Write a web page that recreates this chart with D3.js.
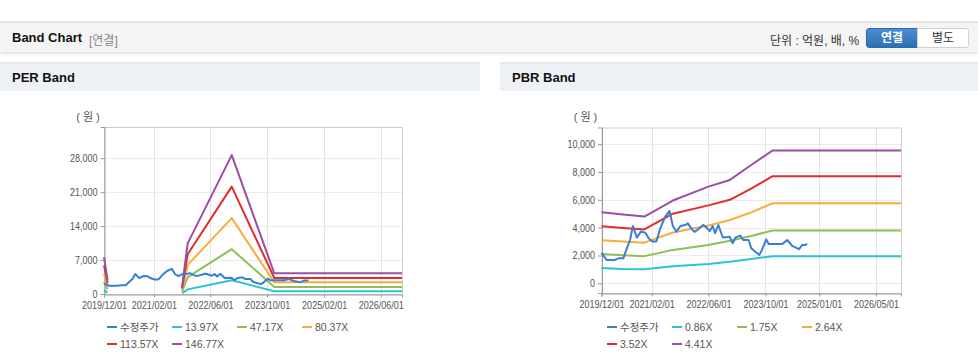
<!DOCTYPE html>
<html>
<head>
<meta charset="utf-8">
<script src="https://cdn.jsdelivr.net/npm/d3@7/dist/d3.min.js"></script>
<style>
body{margin:0;width:978px;height:361px;overflow:hidden;background:#fff;position:relative;
  font-family:"Liberation Sans","Noto Sans CJK KR",sans-serif;}
.topbar{position:absolute;left:0;top:21px;width:978px;height:29px;background:#f4f4f4;
  border-top:2px solid #e3e3e3;box-shadow:0 2px 3px rgba(0,0,0,0.13);}
.topbar .title{position:absolute;left:12px;top:7px;font-size:13px;font-weight:bold;color:#111;}
.topbar .sub{position:absolute;left:89px;top:8px;font-size:12px;color:#888;}
.topbar .unit{position:absolute;left:770px;top:8px;font-size:12px;color:#333;}
.btn{position:absolute;top:5px;height:18px;width:50px;font-size:12px;text-align:center;line-height:18px;
  border:1px solid #d0d0d0;box-sizing:content-box;}
.btn.on{left:866px;background:linear-gradient(#4c8cd0,#2f6fb5);color:#fff;font-weight:bold;border-color:#2d69ad;border-radius:3px 0 0 3px;}
.btn.off{left:917px;background:#fff;color:#333;border-radius:0 3px 3px 0;}
.phead{position:absolute;top:62px;height:27px;background:#eef2f7;border-top:2px solid #e3e8ee;}
.phead span{position:absolute;left:12px;top:6px;font-size:13px;font-weight:bold;color:#111;}
svg{position:absolute;top:91px;}
</style>
</head>
<body>
<div class="topbar">
  <div class="title">Band Chart</div>
  <div class="sub">[연결]</div>
  <div class="unit">단위 : 억원, 배, %</div>
  <div class="btn on">연결</div>
  <div class="btn off">별도</div>
</div>
<div class="phead" style="left:0;width:480px"><span>PER Band</span></div>
<div class="phead" style="left:500px;width:478px"><span>PBR Band</span></div>
<div id="per"></div>
<div id="pbr"></div>
<script>
// 수정주가 (shared by both charts)
const priceDates = ["2019/12/01","2020/01/13","2020/03/25","2020/04/22","2020/06/04","2020/07/10","2020/08/01",
  "2020/08/25","2020/09/28","2020/11/01","2020/12/10","2021/01/07","2021/02/07","2021/03/13","2021/04/16",
  "2021/05/28","2021/07/04","2021/08/01","2021/09/01","2021/10/04","2021/11/16","2021/12/07","2022/01/01",
  "2022/02/01","2022/03/01","2022/04/16","2022/05/01","2022/06/13","2022/07/07","2022/07/28","2022/08/25",
  "2022/10/01","2022/11/01","2022/11/28","2022/12/25","2023/01/19","2023/02/28","2023/03/25","2023/05/10",
  "2023/06/01","2023/07/04","2023/08/10","2023/09/01","2023/10/07","2023/10/28","2023/12/10","2024/02/22",
  "2024/04/04","2024/05/16","2024/07/13","2024/08/10","2024/09/05","2024/09/20"];
const priceValues = [2200,1680,1680,1790,1790,2630,3110,
  4120,3280,3710,3640,3240,3000,3000,3950,
  4790,5200,4120,3710,4120,4190,4310,4000,
  3690,3850,4190,4120,3760,4120,3600,4190,
  3310,3310,3350,2880,3300,3430,3110,3110,
  2520,2280,2040,2400,3160,2830,2830,2830,
  3110,2690,2450,2760,2760,2830];

// PER band
const perDates = ["2019/12/01","2020/01/01","2020/02/01","2021/10/01","2021/11/18","2022/12/01","2023/12/01","2026/12/01"];
const per1 = [800,300,null,150,950,2850,550,550];
const per2 = [2500,950,null,500,3500,9250,1450,1450];
const per3 = [4200,1600,null,850,6000,15650,2400,2400];
const per4 = [5900,2250,null,1150,8200,22150,3300,3300];
const per5 = [7600,2900,null,1500,10450,28650,4270,4270];
const perLabels = ["13.97X","47.17X","80.37X","113.57X","146.77X"];
const perTicks = ["2019/12/01","2021/02/01","2022/06/01","2023/10/01","2025/02/01","2026/06/01"];
const perYTicks = [0,7000,14000,21000,28000];

// PBR band
const pbrDates = ["2019/12/01","2020/06/01","2020/12/01","2021/08/01","2022/06/01","2022/12/01","2023/06/01","2023/12/01","2026/12/01"];
const pbr1 = [1100,1030,1000,1220,1380,1550,1750,1950,1950];
const pbr2 = [2100,2020,1950,2400,2750,3050,3400,3800,3800];
const pbr3 = [3100,3000,2920,3650,4150,4550,5100,5750,5750];
const pbr4 = [4100,3980,3870,5000,5600,6000,6800,7700,7700];
const pbr5 = [5100,4950,4800,5950,6950,7430,8500,9550,9550];
const pbrLabels = ["0.86X","1.75X","2.64X","3.52X","4.41X"];
const pbrTicks = ["2019/12/01","2021/02/01","2022/06/01","2023/10/01","2025/01/01","2026/05/01"];
const pbrYTicks = [0,2000,4000,6000,8000,10000];

const colors = ["#3a7dd6","#2bc3d5","#8ebf55","#f8ac3a","#df2f2b","#9a4fa7"];
const parse = d3.timeParse("%Y/%m/%d");

function drawBand(sel, left, cfg){
  const W = 478, H = 270;
  const svg = d3.select(sel).append("svg")
    .attr("width", W).attr("height", H)
    .style("left", left + "px");
  const g = svg.append("g");

  const x = d3.scaleTime()
    .domain([parse("2019/12/01"), parse("2026/12/01")])
    .range([cfg.x0, cfg.x1]);
  const y = d3.scaleLinear().domain(cfg.yDomain).range([cfg.y0, cfg.y1]);

  // grid
  g.append("g").selectAll("line").data(cfg.yTicks).join("line")
    .attr("x1", cfg.x0).attr("x2", cfg.x1)
    .attr("y1", d => Math.round(y(d)) + 0.5).attr("y2", d => Math.round(y(d)) + 0.5)
    .attr("stroke", "#ececec");
  g.append("g").selectAll("line").data(cfg.xTicks).join("line")
    .attr("x1", d => Math.round(x(parse(d))) + 0.5).attr("x2", d => Math.round(x(parse(d))) + 0.5)
    .attr("y1", cfg.y1).attr("y2", cfg.y0)
    .attr("stroke", "#e4e4e4");

  // frame
  g.append("rect").attr("x", cfg.x0 + 0.5).attr("y", cfg.y1 + 0.5)
    .attr("width", cfg.x1 - cfg.x0).attr("height", cfg.y0 - cfg.y1)
    .attr("fill", "none").attr("stroke", "#cfcfcf");

  // tick labels are narrow in the original, squeeze them a bit
  const yAxis = g.append("g").attr("transform", `translate(${cfg.x0 + 0.5},0)`)
    .call(d3.axisLeft(y).tickValues(cfg.yTicks).tickFormat(d3.format(",")).tickSize(4).tickPadding(3));
  yAxis.select(".domain").attr("stroke", "#999");
  yAxis.selectAll(".tick line").attr("stroke", "#999");
  yAxis.selectAll("text").attr("fill", "#555").style("font-size", "11px")
    .style("font-family", "Liberation Sans, sans-serif")
    .attr("transform", "translate(-7,0) scale(0.82,1) translate(7,0)");

  const xAxis = g.append("g").attr("transform", `translate(0,${cfg.y0 + 0.5})`)
    .call(d3.axisBottom(x).tickValues(cfg.xTicks.map(parse)).tickFormat(d3.timeFormat("%Y/%m/%d")).tickSize(3).tickPadding(4));
  xAxis.select(".domain").attr("stroke", "#999");
  xAxis.selectAll(".tick line").attr("stroke", "#999");
  xAxis.selectAll("text").attr("fill", "#555").style("font-size", "11px")
    .style("font-family", "Liberation Sans, sans-serif")
    .attr("transform", "scale(0.82,1)");

  g.append("text").attr("x", cfg.x0 - 16).attr("y", 30)
    .attr("text-anchor", "middle").attr("fill", "#555").style("font-size", "11px")
    .text("( 원 )");

  const line = d3.line()
    .defined(d => d.v != null)
    .x(d => x(d.t)).y(d => y(d.v));

  const series = [{name: "수정주가", data: priceDates.map((d, i) => ({t: parse(d), v: priceValues[i]}))}];
  cfg.bands.forEach((b, k) => {
    series.push({name: cfg.labels[k], data: cfg.dates.map((d, i) => ({t: parse(d), v: b[i]}))});
  });

  // bands first, price on top
  const order = [1, 2, 3, 4, 5, 0];
  order.forEach(k => {
    g.append("path").datum(series[k].data)
      .attr("d", line)
      .attr("fill", "none")
      .attr("stroke", colors[k])
      .attr("stroke-width", 2)
      .attr("stroke-linejoin", "round");
  });

  // legend
  const leg = g.append("g");
  series.forEach((s, k) => {
    const lx = cfg.legX + (k % 4) * 65;
    const ly = 236 + Math.floor(k / 4) * 17;
    leg.append("line").attr("x1", lx).attr("x2", lx + 10).attr("y1", ly).attr("y2", ly)
      .attr("stroke", colors[k]).attr("stroke-width", 2);
    leg.append("text").attr("x", lx + 13).attr("y", ly + 4)
      .attr("fill", "#555").style("font-size", "10.5px").text(s.name);
  });
}

drawBand("#per", 0, {
  x0: 104, x1: 402, y0: 203, y1: 36,
  yDomain: [0, 34450], yTicks: perYTicks, xTicks: perTicks,
  dates: perDates, bands: [per1, per2, per3, per4, per5], labels: perLabels, legX: 107
});
drawBand("#pbr", 500, {
  x0: 101.5, x1: 401, y0: 202, y1: 36.5,
  yDomain: [-700, 11200], yTicks: pbrYTicks, xTicks: pbrTicks,
  dates: pbrDates, bands: [pbr1, pbr2, pbr3, pbr4, pbr5], labels: pbrLabels, legX: 107
});
</script>
</body>
</html>
